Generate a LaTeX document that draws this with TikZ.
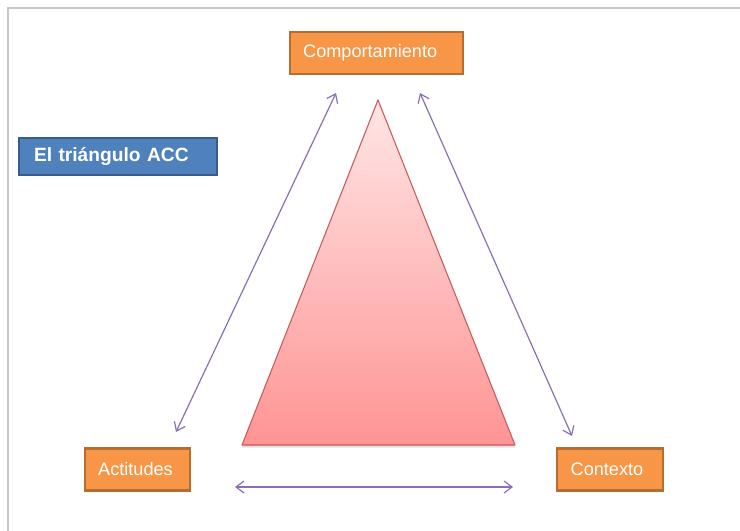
\documentclass[tikz,border=0pt]{standalone}
\usepackage{fontspec}
\setmainfont{Liberation Sans}
\usepackage{tikz}
\usetikzlibrary{arrows.meta, shadows}

\definecolor{boxorange}{HTML}{F79646}
\definecolor{boxorangedark}{HTML}{B66D2F}
\definecolor{titleblue}{HTML}{4F81BD}
\definecolor{titlebluedark}{HTML}{385D8A}
\definecolor{linkviolet}{HTML}{8A70B0}
\definecolor{trianglered}{HTML}{C85A58}
\definecolor{framegray}{HTML}{C8C8C8}

\tikzstyle{conceptbox} = [rectangle, draw=boxorangedark, fill=boxorange,
    line width=1.6pt, text=white, align=left, inner xsep=10pt,
    minimum height=31.5pt, font=\fontsize{13.6}{15}\selectfont,
    drop shadow={opacity=0.15, shadow xshift=0.8pt, shadow yshift=-0.8pt}]
\tikzstyle{titlebox}   = [rectangle, draw=titlebluedark, fill=titleblue,
    line width=1.4pt, text=white, align=left, inner xsep=11pt,
    minimum height=28pt, font=\bfseries\fontsize{14.4}{16}\selectfont,
    drop shadow={opacity=0.15, shadow xshift=0.8pt, shadow yshift=-0.8pt}]
\tikzstyle{link}       = [{Straight Barb[length=6pt, width=9pt]}-{Straight Barb[length=6pt, width=9pt]},
    draw=linkviolet, line width=0.9pt]

\begin{document}
\begin{tikzpicture}[x=0.75pt, y=-0.75pt]
  \useasboundingbox (0,0) rectangle (740,531);

  % slide frame
  \draw[framegray, line width=2pt] (8,531) -- (8,8) -- (740,8);

  % boxes
  \node[conceptbox, text width=110pt] (comp) at (376.5,53) {Comportamiento};
  \node[titlebox, text width=126pt]   (title) at (118,156.5) {El triángulo ACC};
  \node[conceptbox, text width=59pt]  (act) at (137.5,469.5) {Actitudes};
  \node[conceptbox, text width=59pt]  (ctx) at (610,469.5) {Contexto};

  % triangle
  \coordinate (apex) at (378,100);
  \coordinate (baseL) at (242,445);
  \coordinate (baseR) at (515,445);
  \fill[black, opacity=0.12] ([yshift=-2pt]baseL) -- ([yshift=-2pt]baseR) -- ([yshift=-1pt]apex) -- cycle;
  \shade[top color=red!10, bottom color=red!42!white] (apex) -- (baseR) -- (baseL) -- cycle;
  \draw[trianglered, line width=0.8pt, line join=round] (apex) -- (baseR) -- (baseL) -- cycle;

  % arrow ends
  \coordinate (compL) at (336,93);
  \coordinate (compR) at (420,93);
  \coordinate (actT)  at (176,432);
  \coordinate (ctxT)  at (572,436);
  \coordinate (actR)  at (235,487);
  \coordinate (ctxL)  at (513,487);

  \draw[link] (compL) -- (actT);
  \draw[link] (compR) -- (ctxT);
  \draw[link] (actR) -- (ctxL);
\end{tikzpicture}
\end{document}
